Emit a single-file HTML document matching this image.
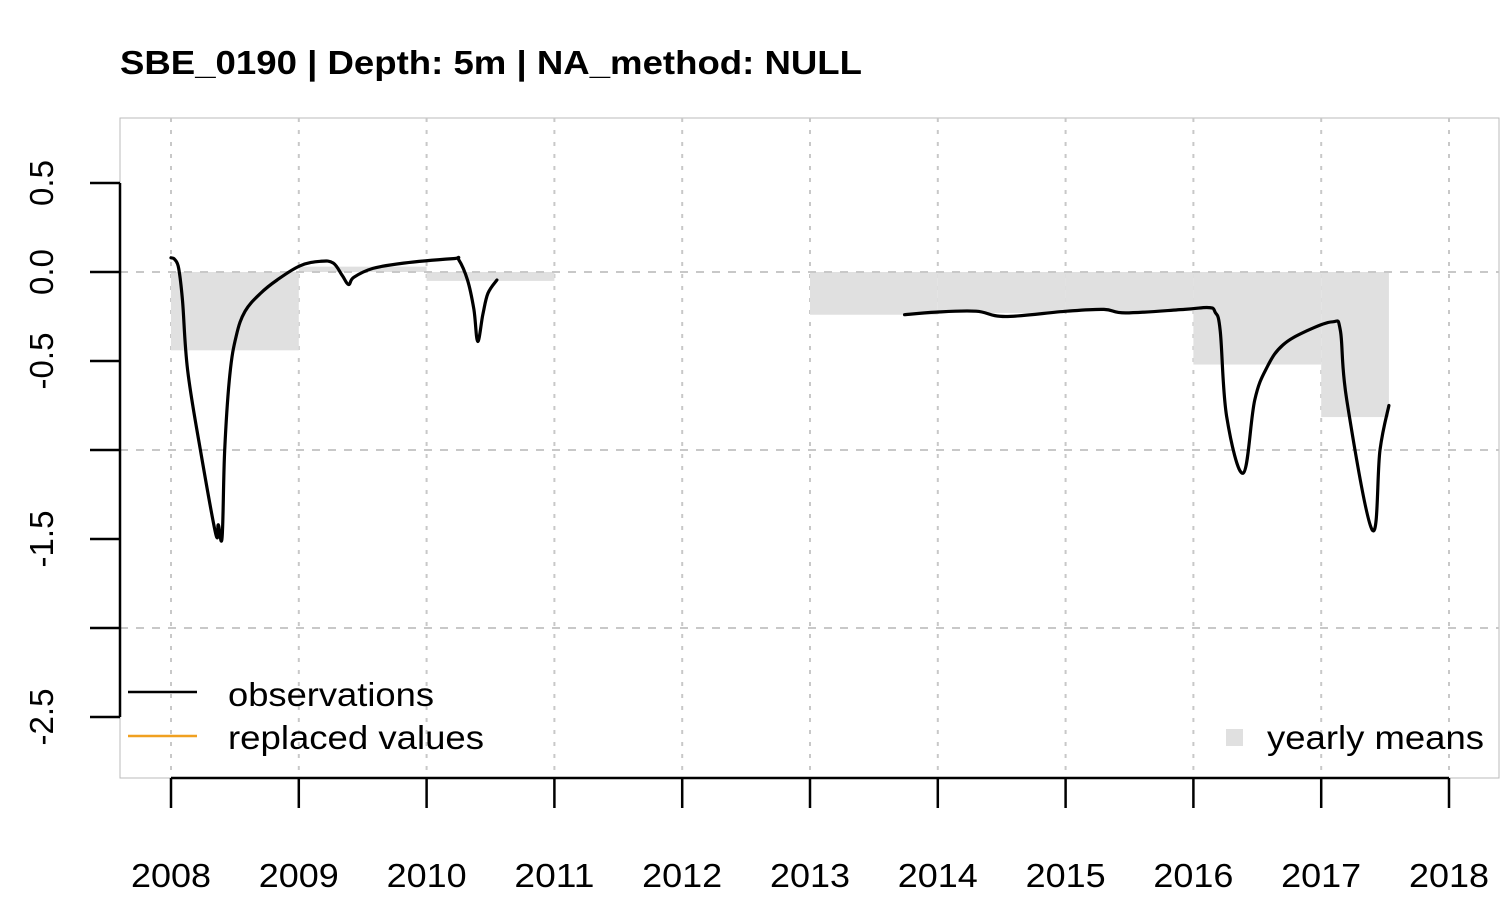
<!DOCTYPE html>
<html><head><meta charset="utf-8"><style>
body{margin:0;background:#fff;}
svg text{font-family:"Liberation Sans",Arial,sans-serif;}
</style></head><body>
<svg id="chart" width="1500" height="899" xmlns="http://www.w3.org/2000/svg">
<text x="120" y="74" font-size="33" font-weight="bold" textLength="742" lengthAdjust="spacingAndGlyphs">SBE_0190 | Depth: 5m | NA_method: NULL</text>
<rect x="120" y="118" width="1379" height="660" fill="none" stroke="#bbb" stroke-width="1"/>
<g id="grid"></g>
<g id="bars"></g>
<g id="obs"></g>
<g id="axes"></g>
<g>
<line x1="128" y1="692" x2="197" y2="692" stroke="#000" stroke-width="2.5"/>
<text x="228" y="706" font-size="33" textLength="206" lengthAdjust="spacingAndGlyphs">observations</text>
<line x1="128" y1="736" x2="197" y2="736" stroke="#f0a020" stroke-width="2.5"/>
<text x="228" y="749" font-size="33" textLength="256" lengthAdjust="spacingAndGlyphs">replaced values</text>
</g>
<g>
<rect x="1226" y="729" width="17" height="17" fill="#e0e0e0"/>
<text x="1267" y="749" font-size="33" textLength="217" lengthAdjust="spacingAndGlyphs">yearly means</text>
</g>
</svg>
<script>
const years=[2008,2009,2010,2011,2012,2013,2014,2015,2016,2017,2018];
const yTicks=[0.5,0.0,-0.5,-1.0,-1.5,-2.0,-2.5];
const yTickLabels=["0.5","0.0","-0.5","","-1.5","","-2.5"];
const yGrid=[0.0,-1.0,-2.0];
const barStart=[2008,2009,2010,2013,2014,2015,2016,2017];
const barEnd=[2009,2010,2011,2014,2015,2016,2017,2017.53];
const barMean=[-0.44,0.03,-0.05,-0.24,-0.23,-0.22,-0.52,-0.815];
const seg1T=[2008.0,2008.03,2008.06,2008.09,2008.13,2008.23,2008.35,2008.37,2008.40,2008.42,2008.46,2008.51,2008.58,2008.70,2008.83,2009.01,2009.17,2009.27,2009.34,2009.39,2009.43,2009.58,2009.82,2010.21,2010.25,2010.32,2010.37,2010.40,2010.44,2010.48,2010.55];
const seg1V=[0.08,0.07,0.02,-0.16,-0.55,-1.0,-1.47,-1.42,-1.49,-1.0,-0.58,-0.36,-0.22,-0.12,-0.045,0.035,0.06,0.05,-0.02,-0.07,-0.03,0.02,0.05,0.075,0.07,-0.045,-0.21,-0.39,-0.24,-0.12,-0.045];
const seg2T=[2013.74,2013.99,2014.30,2014.53,2015.01,2015.30,2015.47,2015.93,2016.12,2016.17,2016.21,2016.26,2016.39,2016.48,2016.58,2016.70,2016.89,2017.09,2017.15,2017.20,2017.40,2017.46,2017.53];
const seg2V=[-0.24,-0.225,-0.22,-0.25,-0.22,-0.21,-0.23,-0.21,-0.2,-0.225,-0.33,-0.81,-1.13,-0.72,-0.53,-0.41,-0.33,-0.28,-0.33,-0.72,-1.45,-1.0,-0.75];
const X=t=>171+(t-2008)*127.8;
const Y=v=>272-v*178;
const NS="http://www.w3.org/2000/svg";
function mk(tag,attrs,parent){const e=document.createElementNS(NS,tag);for(const k in attrs)e.setAttribute(k,attrs[k]);parent.appendChild(e);return e;}
const grid=document.getElementById('grid'),bars=document.getElementById('bars'),obs=document.getElementById('obs'),axes=document.getElementById('axes');
years.forEach(y=>{const l=mk('line',{x1:X(y),x2:X(y),y1:118,y2:778,stroke:'#c8c8c8','stroke-width':2,'stroke-dasharray':'4 8'},grid);

});
yGrid.forEach(v=>{const l=mk('line',{x1:120,x2:1499,y1:Y(v),y2:Y(v),stroke:'#c8c8c8','stroke-width':2,'stroke-dasharray':'8 8'},grid);

});
barMean.forEach((m,i)=>{const y0=Math.min(Y(0),Y(m)),h=Math.abs(Y(m)-Y(0));
const r=mk('rect',{x:X(barStart[i]),y:y0,width:X(barEnd[i])-X(barStart[i]),height:h,fill:'#e0e0e0'},bars);

});
const zl=mk('line',{x1:120,x2:1499,y1:Y(0),y2:Y(0),stroke:'#c8c8c8','stroke-width':2,'stroke-dasharray':'8 8'},bars);


function smooth(P){let d='M'+P[0][0].toFixed(1)+' '+P[0][1].toFixed(1);
for(let i=0;i<P.length-1;i++){const p0=P[i-1]||P[i],p1=P[i],p2=P[i+1],p3=P[i+2]||p2;const k=0.18;
const c1=[p1[0]+(p2[0]-p0[0])*k,p1[1]+(p2[1]-p0[1])*k],c2=[p2[0]-(p3[0]-p1[0])*k,p2[1]-(p3[1]-p1[1])*k];
d+=' C'+c1[0].toFixed(1)+' '+c1[1].toFixed(1)+' '+c2[0].toFixed(1)+' '+c2[1].toFixed(1)+' '+p2[0].toFixed(1)+' '+p2[1].toFixed(1);}
return d;}
[[seg1T,seg1V],[seg2T,seg2V]].forEach(([T,V])=>{const P=T.map((t,i)=>[X(t),Y(V[i])]);
const p=mk('path',{d:smooth(P),fill:'none',stroke:'#000','stroke-width':3.2,'stroke-linejoin':'round','stroke-linecap':'round'},obs);

});
let a=mk('line',{x1:X(2008),x2:X(2018),y1:778,y2:778,stroke:'#000','stroke-width':2.5},axes);


years.forEach(y=>{const t=mk('line',{x1:X(y),x2:X(y),y1:778,y2:808,stroke:'#000','stroke-width':2.5},axes);


const tx=mk('text',{x:X(y)-40,y:887,'font-size':33,textLength:80,lengthAdjust:'spacingAndGlyphs'},axes);tx.textContent=y;

});
a=mk('line',{x1:120,x2:120,y1:Y(0.5),y2:Y(-2.5),stroke:'#000','stroke-width':2.5},axes);


yTicks.forEach((v,i)=>{const t=mk('line',{x1:90,x2:120,y1:Y(v),y2:Y(v),stroke:'#000','stroke-width':2.5},axes);


if(yTickLabels[i]){const tx=mk('text',{x:0,y:0,'font-size':33,'text-anchor':'middle',transform:`translate(53,${Y(v)}) rotate(-90)`},axes);tx.textContent=yTickLabels[i];

}});
</script>
</body></html>
